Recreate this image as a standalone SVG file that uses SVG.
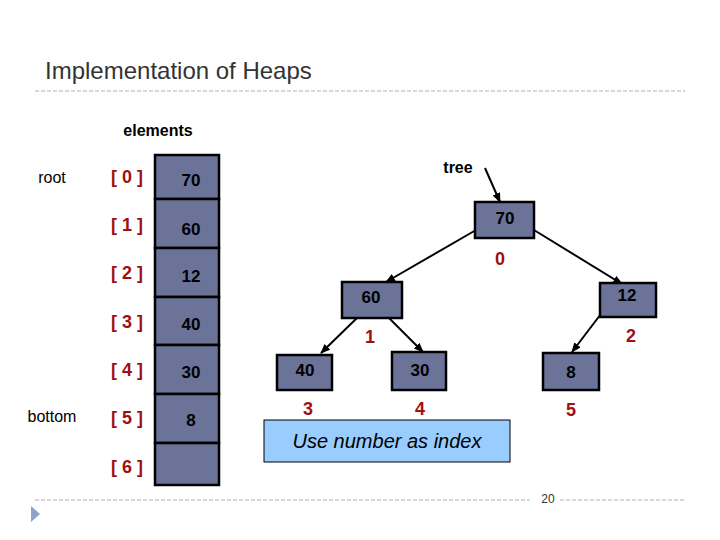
<svg xmlns="http://www.w3.org/2000/svg" width="720" height="540" viewBox="0 0 720 540">
<style>
.box{fill:#6b7399;stroke:#000;stroke-width:2.5}
.v{font-family:"Liberation Sans",Arial,sans-serif;font-weight:bold;font-size:17px;fill:#000;text-anchor:middle}
.idx{font-family:"Liberation Sans",Arial,sans-serif;font-weight:bold;font-size:18px;fill:#a01010;text-anchor:middle}
.lbl{font-family:"Liberation Sans",Arial,sans-serif;font-size:16px;fill:#000}
.c{stroke:#000;stroke-width:2;fill:none;marker-end:url(#ah)}
.dash{stroke:#b0b0b0;stroke-width:1;stroke-dasharray:4,2}
</style>
<defs><marker id="ah" markerWidth="10" markerHeight="8" refX="9" refY="4" orient="auto" markerUnits="userSpaceOnUse"><path d="M0,0 L10,4 L0,8 z" fill="#000"/></marker></defs>
<rect width="720" height="540" fill="#fff"/>
<text x="45" y="79" font-family="Liberation Sans,Arial,sans-serif" font-size="24" fill="#333">Implementation of Heaps</text>
<line class="dash" x1="35" y1="91" x2="685" y2="91"/>
<line class="dash" x1="35" y1="500" x2="530" y2="500"/>
<line class="dash" x1="560" y1="500" x2="685" y2="500"/>
<text x="548" y="503" font-family="Liberation Sans,Arial,sans-serif" font-size="12" fill="#333" text-anchor="middle">20</text>
<polygon points="31,506 40,514 31,522" fill="#8fa5c8"/>
<g id="array">
<text x="158" y="136" class="lbl" font-weight="bold" text-anchor="middle">elements</text>
<text x="52" y="183" class="lbl" text-anchor="middle">root</text>
<text x="52" y="422" class="lbl" text-anchor="middle">bottom</text>
<rect class="box" x="155" y="155" width="64" height="44"/>
<rect class="box" x="155" y="199" width="64" height="49"/>
<rect class="box" x="155" y="248" width="64" height="49"/>
<rect class="box" x="155" y="297" width="64" height="48"/>
<rect class="box" x="155" y="345" width="64" height="49"/>
<rect class="box" x="155" y="394" width="64" height="49"/>
<rect class="box" x="155" y="443" width="64" height="42"/>
<text class="v" x="191" y="186">70</text>
<text class="v" x="191" y="235">60</text>
<text class="v" x="191" y="282">12</text>
<text class="v" x="191" y="330">40</text>
<text class="v" x="191" y="378">30</text>
<text class="v" x="191" y="426">8</text>
<text class="idx" x="127" y="183">[ 0 ]</text>
<text class="idx" x="127" y="231">[ 1 ]</text>
<text class="idx" x="127" y="279">[ 2 ]</text>
<text class="idx" x="127" y="328">[ 3 ]</text>
<text class="idx" x="127" y="376">[ 4 ]</text>
<text class="idx" x="127" y="424">[ 5 ]</text>
<text class="idx" x="127" y="473">[ 6 ]</text>
</g>
<g id="connectors">
<line class="c" x1="485" y1="168" x2="500" y2="202"/>
<line class="c" x1="476" y1="230" x2="386" y2="282"/>
<line class="c" x1="534" y1="230" x2="622" y2="284"/>
<line class="c" x1="357" y1="318" x2="321" y2="353"/>
<line class="c" x1="389" y1="318" x2="423" y2="352"/>
<line class="c" x1="610" y1="302" x2="572" y2="352"/>
</g>
<text x="458" y="173" class="lbl" font-weight="bold" font-size="17" text-anchor="middle">tree</text>
<g id="n0"><rect class="box" x="475" y="202" width="59" height="36"/><text class="v" x="505" y="224">70</text><text class="idx" x="500" y="265">0</text></g>
<g id="n1"><rect class="box" x="342" y="282" width="60" height="36"/><text class="v" x="371" y="303">60</text><text class="idx" x="370" y="343">1</text></g>
<g id="n2"><rect class="box" x="600" y="283" width="56" height="34"/><text class="v" x="627" y="301">12</text><text class="idx" x="631" y="342">2</text></g>
<g id="n3"><rect class="box" x="277" y="355" width="55" height="35"/><text class="v" x="305" y="376">40</text><text class="idx" x="308" y="415">3</text></g>
<g id="n4"><rect class="box" x="392" y="352" width="54" height="38"/><text class="v" x="420" y="376">30</text><text class="idx" x="420" y="415">4</text></g>
<g id="n5"><rect class="box" x="543" y="353" width="56" height="37"/><text class="v" x="571" y="378">8</text><text class="idx" x="571" y="416">5</text></g>
<g id="note"><rect x="264" y="420" width="246" height="42" fill="#99ccff" stroke="#000" stroke-width="1"/><text x="387" y="448" font-family="Liberation Sans,Arial,sans-serif" font-style="italic" font-size="20" text-anchor="middle" fill="#000">Use number as index</text></g>
</svg>
